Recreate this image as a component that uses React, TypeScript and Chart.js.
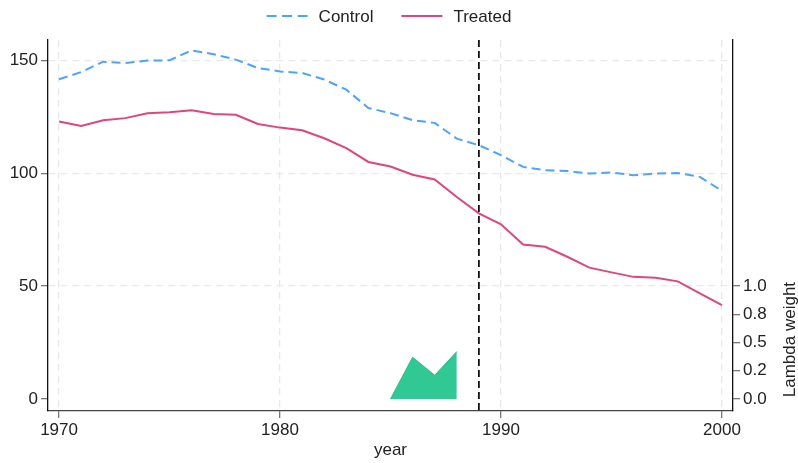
import React, { useEffect, useRef } from "react";
import { Chart, registerables } from "chart.js";

Chart.register(...registerables);

const years = [
  1970, 1971, 1972, 1973, 1974, 1975, 1976, 1977, 1978, 1979,
  1980, 1981, 1982, 1983, 1984, 1985, 1986, 1987, 1988, 1989,
  1990, 1991, 1992, 1993, 1994, 1995, 1996, 1997, 1998, 1999, 2000,
];
const controlValues = [
  141.6, 144.8, 149.4, 148.8, 149.9, 150.0, 154.4, 152.7, 150.3, 146.6,
  145.1, 144.4, 141.5, 137.0, 128.9, 126.6, 123.5, 122.3, 115.3, 112.4,
  108.0, 102.8, 101.3, 101.0, 99.9, 100.3, 99.1, 99.9, 100.1, 98.4, 92.2,
];
const treatedValues = [
  122.9, 120.9, 123.5, 124.4, 126.6, 127.0, 127.9, 126.2, 125.9, 121.8,
  120.2, 119.0, 115.5, 111.1, 105.0, 103.0, 99.3, 97.2, 89.5, 82.2,
  77.4, 68.4, 67.4, 63.0, 58.2, 56.1, 54.1, 53.7, 52.1, 46.8, 41.6,
];
const lambdaYears = [1985, 1986, 1987, 1988];
const lambdaWeights = [0, 0.37, 0.21, 0.42];
const treatmentYear = 1989;

const xTicks = [1970, 1980, 1990, 2000];
const leftTicks = [0, 50, 100, 150];
const rightTickValues = [0, 0.25, 0.5, 0.75, 1];
const rightTickLabels = ["0.0", "0.2", "0.5", "0.8", "1.0"];

const seriesNames = ["Control", "Treated"];
const xTitle = "year";
const rightTitle = "Lambda weight";

const FONT = "'Liberation Sans', Arial, Helvetica, sans-serif";
const BLUE = "#4da3ff";
const RED = "#e0457b";
const GREEN_FILL = "#30c994";
const GREEN_LINE = "#2bb888";
const TEXT = "#222";
const GRID = "#e9e9e9";

const Y_MIN = -5.3;
const Y_MAX = 159;
const Y1_SCALE = 50;

export default function App() {
  const canvasRef = useRef<HTMLCanvasElement | null>(null);

  useEffect(() => {
    if (!canvasRef.current) return;

    const overlay = {
      id: "overlay",
      afterDatasetsDraw(chart: any) {
        const { ctx, chartArea, scales } = chart;
        const x = scales.x.getPixelForValue(treatmentYear);
        ctx.save();
        ctx.strokeStyle = "#111";
        ctx.lineWidth = 1.8;
        ctx.setLineDash([7, 4]);
        ctx.beginPath();
        ctx.moveTo(x, chartArea.top);
        ctx.lineTo(x, chartArea.bottom);
        ctx.stroke();
        ctx.restore();
      },
      afterDraw(chart: any) {
        const { ctx, chartArea, scales } = chart;
        ctx.save();
        ctx.font = `17px ${FONT}`;
        ctx.fillStyle = TEXT;
        ctx.textBaseline = "middle";
        // legend
        const sample = 41;
        const gapText = 11;
        const gapItem = 28;
        const w0 = ctx.measureText(seriesNames[0]).width;
        const w1 = ctx.measureText(seriesNames[1]).width;
        const total = sample + gapText + w0 + gapItem + sample + gapText + w1;
        let lx = (chartArea.left + chartArea.right) / 2 - 1.5 - total / 2;
        const ly = 16;
        const styles = [
          { color: BLUE, dash: [10, 5.5] },
          { color: RED, dash: [] as number[] },
        ];
        [w0, w1].forEach((w, i) => {
          ctx.save();
          ctx.strokeStyle = styles[i].color;
          ctx.lineWidth = 2;
          ctx.setLineDash(styles[i].dash);
          ctx.beginPath();
          ctx.moveTo(lx, ly);
          ctx.lineTo(lx + sample, ly);
          ctx.stroke();
          ctx.restore();
          lx += sample + gapText;
          ctx.textAlign = "left";
          ctx.fillText(seriesNames[i], lx, ly + 1);
          lx += w + gapItem;
        });
        // right axis title
        const y0 = scales.y1.getPixelForValue(0);
        const yTop = scales.y1.getPixelForValue(1);
        ctx.translate(chart.width - 8, (y0 + yTop) / 2 - 3);
        ctx.rotate(-Math.PI / 2);
        ctx.textAlign = "center";
        ctx.fillText(rightTitle, 0, 0);
        ctx.restore();
      },
    };

    const chart = new Chart(canvasRef.current, {
      type: "line",
      data: {
        datasets: [
          {
            label: seriesNames[0],
            data: years.map((yr, i) => ({ x: yr, y: controlValues[i] })),
            borderColor: BLUE,
            borderWidth: 2,
            borderDash: [9, 5],
            pointRadius: 0,
            tension: 0,
            fill: false,
            yAxisID: "y",
            order: 1,
          },
          {
            label: seriesNames[1],
            data: years.map((yr, i) => ({ x: yr, y: treatedValues[i] })),
            borderColor: RED,
            borderWidth: 2,
            pointRadius: 0,
            tension: 0,
            fill: false,
            yAxisID: "y",
            order: 0,
          },
          {
            label: "lambda",
            data: lambdaYears.map((yr, i) => ({ x: yr, y: lambdaWeights[i] })),
            borderColor: GREEN_LINE,
            backgroundColor: GREEN_FILL,
            borderWidth: 1,
            pointRadius: 0,
            tension: 0,
            fill: { target: { value: 0 } },
            yAxisID: "y1",
            order: 2,
          },
        ],
      },
      options: {
        animation: false,
        responsive: true,
        maintainAspectRatio: false,
        layout: { padding: { top: 40, left: 0, right: 0, bottom: 0 } },
        plugins: {
          legend: { display: false },
          tooltip: { enabled: false },
        },
        scales: {
          x: {
            type: "linear",
            min: 1969.5,
            max: 2000.5,
            afterBuildTicks: (axis: any) => {
              axis.ticks = xTicks.map((v) => ({ value: v }));
            },
            afterFit: (axis: any) => {
              axis.height = 52;
            },
            ticks: {
              font: { size: 17, family: FONT },
              color: TEXT,
              padding: 2,
              maxRotation: 0,
              callback: (v: any) => String(v),
            },
            grid: {
              color: GRID,
              lineWidth: 1.3,
              tickLength: 7,
              tickColor: "#777",
              tickWidth: 1.3,
              tickBorderDash: [],
            },
            border: { display: true, color: "#444", width: 1.3, dash: [7, 5] },
            title: {
              display: true,
              text: xTitle,
              font: { size: 17, family: FONT },
              color: TEXT,
              padding: { top: 0, bottom: 2 },
            },
          },
          y: {
            type: "linear",
            position: "left",
            min: Y_MIN,
            max: Y_MAX,
            afterBuildTicks: (axis: any) => {
              axis.ticks = leftTicks.map((v) => ({ value: v }));
            },
            afterFit: (axis: any) => {
              axis.width = 48;
            },
            ticks: {
              font: { size: 17, family: FONT },
              color: TEXT,
              padding: 3,
              callback: (v: any) => String(v),
            },
            grid: {
              color: (c: any) => (c.tick && c.tick.value === 0 ? "rgba(0,0,0,0)" : GRID),
              lineWidth: 1.3,
              tickLength: 7,
              tickColor: "#777",
              tickWidth: 1.3,
              tickBorderDash: [],
            },
            border: { display: true, color: "#111", width: 1.3, dash: [7, 5] },
          },
          y1: {
            type: "linear",
            position: "right",
            min: Y_MIN / Y1_SCALE,
            max: Y_MAX / Y1_SCALE,
            afterBuildTicks: (axis: any) => {
              axis.ticks = rightTickValues.map((v) => ({ value: v }));
            },
            afterFit: (axis: any) => {
              axis.width = 65;
            },
            ticks: {
              font: { size: 17, family: FONT },
              color: TEXT,
              padding: 3,
              callback: (v: any) => {
                const idx = rightTickValues.indexOf(Number(v));
                return idx >= 0 ? rightTickLabels[idx] : "";
              },
            },
            grid: {
              drawOnChartArea: false,
              color: "#777",
              lineWidth: 1.3,
              tickLength: 7,
              tickColor: "#777",
              tickWidth: 1.3,
              tickBorderDash: [],
            },
            border: { display: true, color: "#111", width: 1.3 },
          },
        },
      },
      plugins: [overlay],
    } as any);

    return () => chart.destroy();
  }, []);

  return (
    <div style={{ position: "absolute", left: 0, top: 0, width: 798, height: 463 }}>
      <canvas ref={canvasRef} />
    </div>
  );
}
